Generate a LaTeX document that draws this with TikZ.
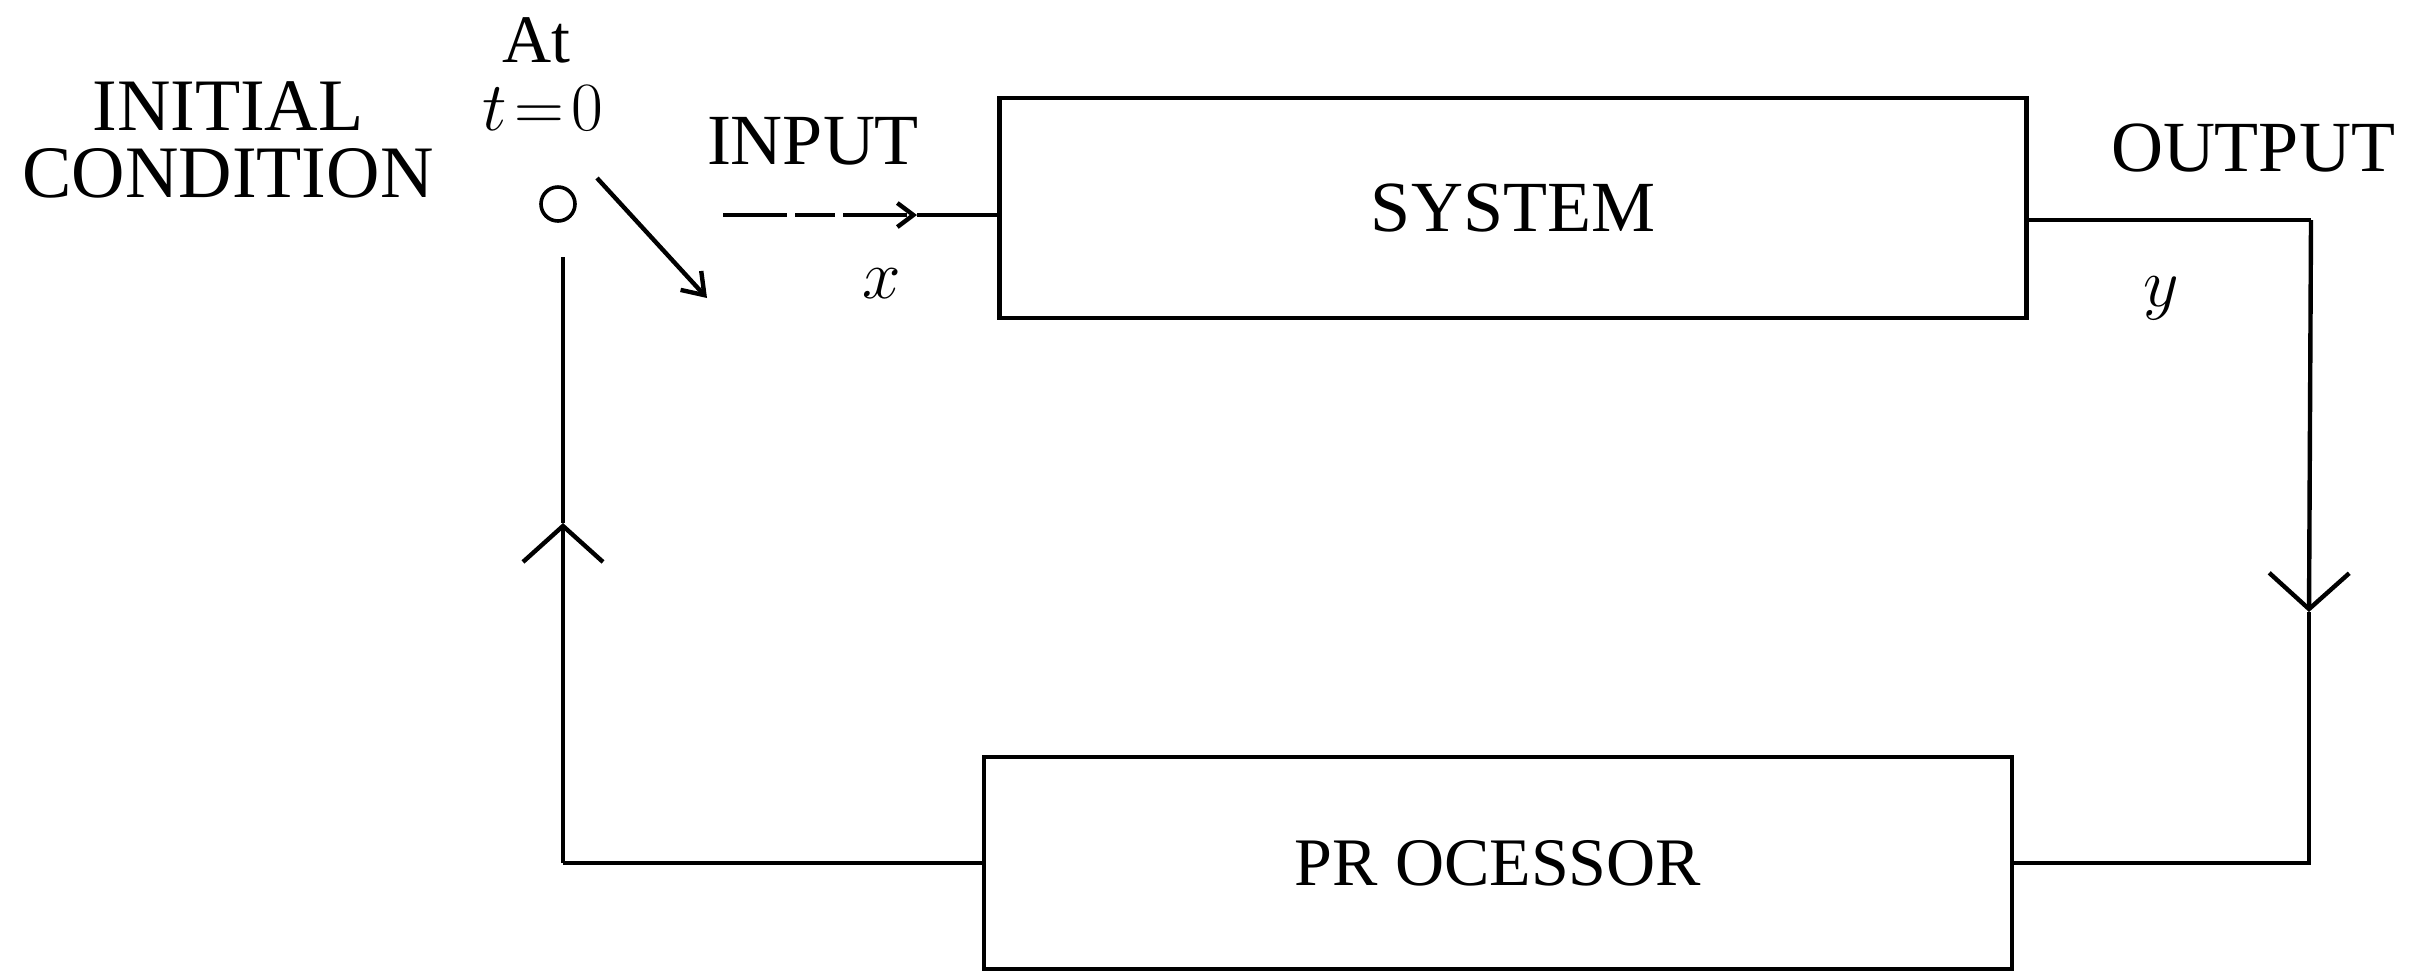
\documentclass[tikz,border=0pt]{standalone}
\usepackage{fontspec}
\setmainfont{Liberation Serif}
\usetikzlibrary{arrows.meta}
\tikzset{
  blockbox/.style={draw, line width=1.2pt, inner sep=0pt, font=\fontsize{18}{20}\selectfont},
  wire/.style={line width=1.1pt},
  bigbarb/.style={-{Straight Barb[length=9pt,width=20pt,line width=1.1pt]}},
  smallbarb/.style={-{Straight Barb[length=5pt,width=7pt,line width=1.1pt]}},
  lbl/.style={inner sep=0pt, font=\fontsize{18}{20}\selectfont}
}
\begin{document}
\begin{tikzpicture}[x=0.25pt,y=0.25pt,yscale=-1,xscale=1]
  \useasboundingbox (0,0) rectangle (2420,977);
  % blocks
  \node[blockbox, minimum width=256.75pt, minimum height=55pt] (system) at (1513,208) {SYSTEM};
  \node[blockbox, minimum width=257pt, minimum height=53pt, font=\fontsize{17}{20}\selectfont] (processor) at (1498,863) {PR OCESSOR};
  % switch contact
  \node[circle, draw, line width=0.9pt, inner sep=0pt, minimum size=8.5pt] (contact) at (558,204) {};
  \coordinate (swA) at (597,178);
  \coordinate (swB) at (707,298);
  \draw[wire, smallbarb] (swA) -- (swB);
  % input
  \coordinate (inA) at (723,215);
  \coordinate (inM) at (917,215);
  \draw[wire, dash pattern=on 16pt off 2pt on 10pt off 2pt, -{Straight Barb[length=4pt,width=6pt,line width=1.1pt]}] (inA) -- (inM);
  \draw[wire] (inM) -- (system.west |- inM);
  % output and feedback to processor
  \coordinate (tr) at (2311,220);
  \coordinate (rarr) at (2309,612);
  \coordinate (br) at (2309,863);
  \draw[wire] (system.east |- tr) -- (tr);
  \draw[wire, bigbarb] (tr) -- (rarr);
  \draw[wire] (rarr) -- (br) -- (processor.east);
  % processor back to initial condition
  \coordinate (bl) at (563,863);
  \coordinate (larr) at (563,523);
  \coordinate (ctop) at (563,257);
  \draw[wire] (processor.west) -- (bl);
  \draw[wire, bigbarb] (bl) -- (larr);
  \draw[wire] (larr) -- (ctop);
  % Text Node
  \node[lbl, align=center, font=\fontsize{18.5}{16.75}\selectfont] (init) at (228,140) {INITIAL\\CONDITION};
  \node[lbl, font=\fontsize{17}{20}\selectfont] (at) at (536,40) {At};
  \node[lbl] (tzero) at (543,108) {$t\!=\!0$};
  \node[lbl] (input) at (813,141) {INPUT};
  \node[lbl] (xlbl) at (882,284) {$x$};
  \node[lbl] (output) at (2253,148) {OUTPUT};
  \node[lbl] (ylbl) at (2161,298) {$y$};
\end{tikzpicture}
\end{document}
